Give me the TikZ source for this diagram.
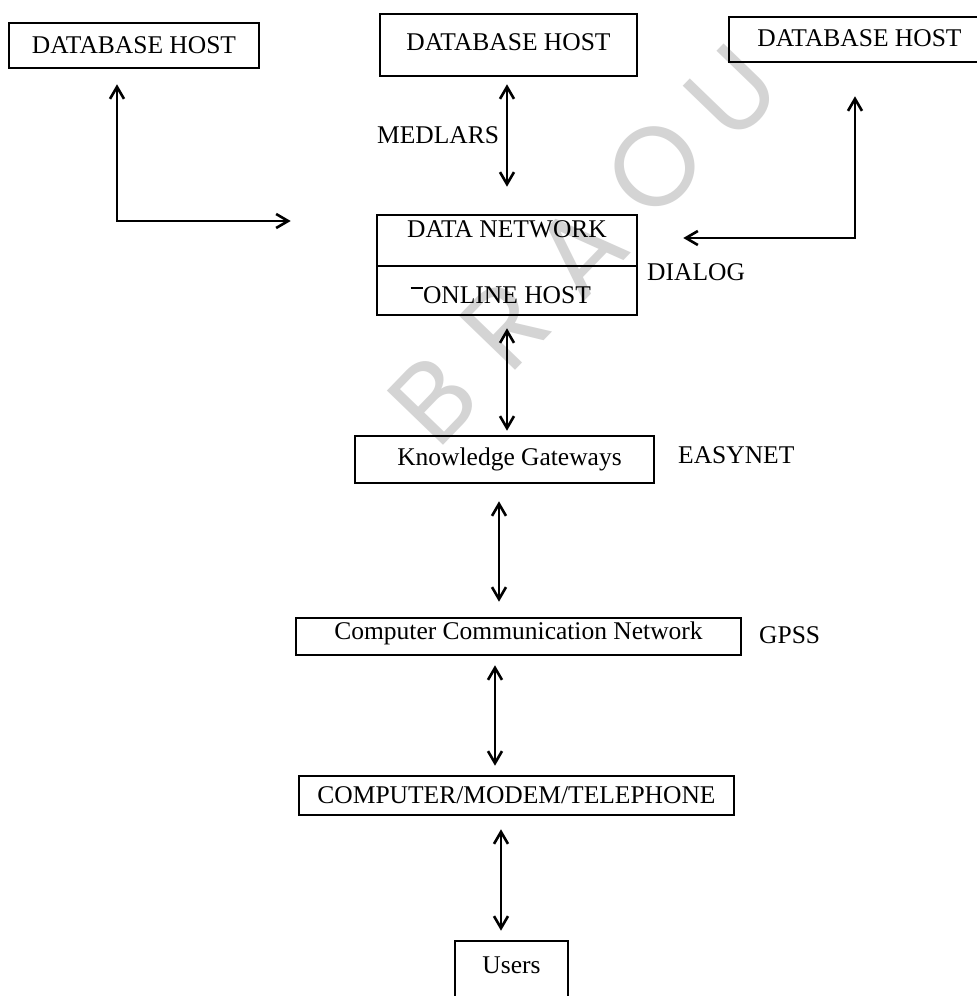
\documentclass[tikz,border=0pt]{standalone}
\usepackage{fontspec}
\setmainfont{Liberation Serif}
\newfontfamily\wmfont{Poppins}
\usetikzlibrary{arrows.meta,calc}
\begin{document}
\begin{tikzpicture}[x=1pt,y=-1pt,
  box/.style={draw, line width=2.6pt, inner sep=0pt, font=\fontsize{25.5}{30}\selectfont, text height=17pt},
  lbl/.style={inner sep=0pt, anchor=base west, font=\fontsize{25.5}{30}\selectfont},
  barb/.tip={Straight Barb[length=12pt,width=14pt,line width=2.6pt]},
  arr/.style={line width=2.8pt, barb-barb},
  wm/.style={text=black!17, font=\wmfont\fontsize{112}{112}\selectfont, rotate=46, inner sep=0pt}]
\useasboundingbox (0,0) rectangle (977,996);
\clip (0,0) rectangle (977,996);
\fill[white] (0,0) rectangle (977,996);
% watermark
\foreach \l/\x/\y in {B/433/400, R/505/325, A/580/250, O/655/167, U/732/92}
  \node[wm] (wm\l) at (\x,\y) {\l};
% boxes
\node[box, minimum width=250pt, minimum height=45pt, text depth=2pt] (db1) at (134,45.5) {DATABASE HOST};
\node[box, minimum width=257pt, minimum height=62pt, text depth=7pt] (db2) at (508.5,45) {DATABASE HOST};
\node[box, minimum width=261pt, minimum height=45pt, text depth=4pt] (db3) at (859.5,39.5) {DATABASE HOST\hspace{14pt}};
\node[box, minimum width=260pt, minimum height=51pt, text depth=24pt] (dnA) at (507,240.5) {DATA NETWORK};
\node[box, minimum width=260pt, minimum height=49pt, text height=25pt, text depth=0pt] (dnB) at (507,290.5) {ONLINE HOST};
\node[box, minimum width=299pt, minimum height=47pt, text depth=6pt] (kg) at (504.5,459.5) {\hspace{10pt}Knowledge Gateways};
\node[box, minimum width=445pt, minimum height=37pt, text depth=12pt] (ccn) at (518.5,636.5) {Computer Communication Network\hspace{19pt}};
\node[box, minimum width=435pt, minimum height=39pt, text depth=2pt] (cmt) at (516.5,795.5) {COMPUTER/MODEM/TELEPHONE\hspace{14pt}};
\node[box, minimum width=113pt, minimum height=70pt, text depth=23pt] (users) at (511.5,976) {Users};
\draw[line width=1.4pt] ($(dnB.west)+(35,-2.5)$) coordinate (dashA) -- ($(dnB.west)+(47,-2.5)$) coordinate (dashB);
% labels
\node[lbl] (medlars) at (377,143) {MEDLARS};
\node[lbl] (dialog) at (647,280) {DIALOG};
\node[lbl] (easynet) at (678,463) {EASYNET};
\node[lbl] (gpss) at (759,643) {GPSS};
% connectors
\draw[arr] ($(117,0 |- db1.south)+(0,15)$) |- ($(dnA.west |- 0,221)+(-85,0)$);
\draw[arr] ($(507,0 |- db2.south)+(0,7)$) -- ($(507,0 |- dnA.north)+(0,-27)$);
\draw[arr] ($(855,0 |- db3.south)+(0,33)$) |- ($(dnA.east |- 0,238)+(45,0)$);
\draw[arr] ($(507,0 |- dnB.south)+(0,12)$) -- ($(507,0 |- kg.north)+(0,-4)$);
\draw[arr] ($(499,0 |- kg.south)+(0,17)$) -- ($(499,0 |- ccn.north)+(0,-15)$);
\draw[arr] ($(495,0 |- ccn.south)+(0,9)$) -- ($(495,0 |- cmt.north)+(0,-9)$);
\draw[arr] ($(501,0 |- cmt.south)+(0,13)$) -- ($(501,0 |- users.north)+(0,-9)$);
\end{tikzpicture}
\end{document}
